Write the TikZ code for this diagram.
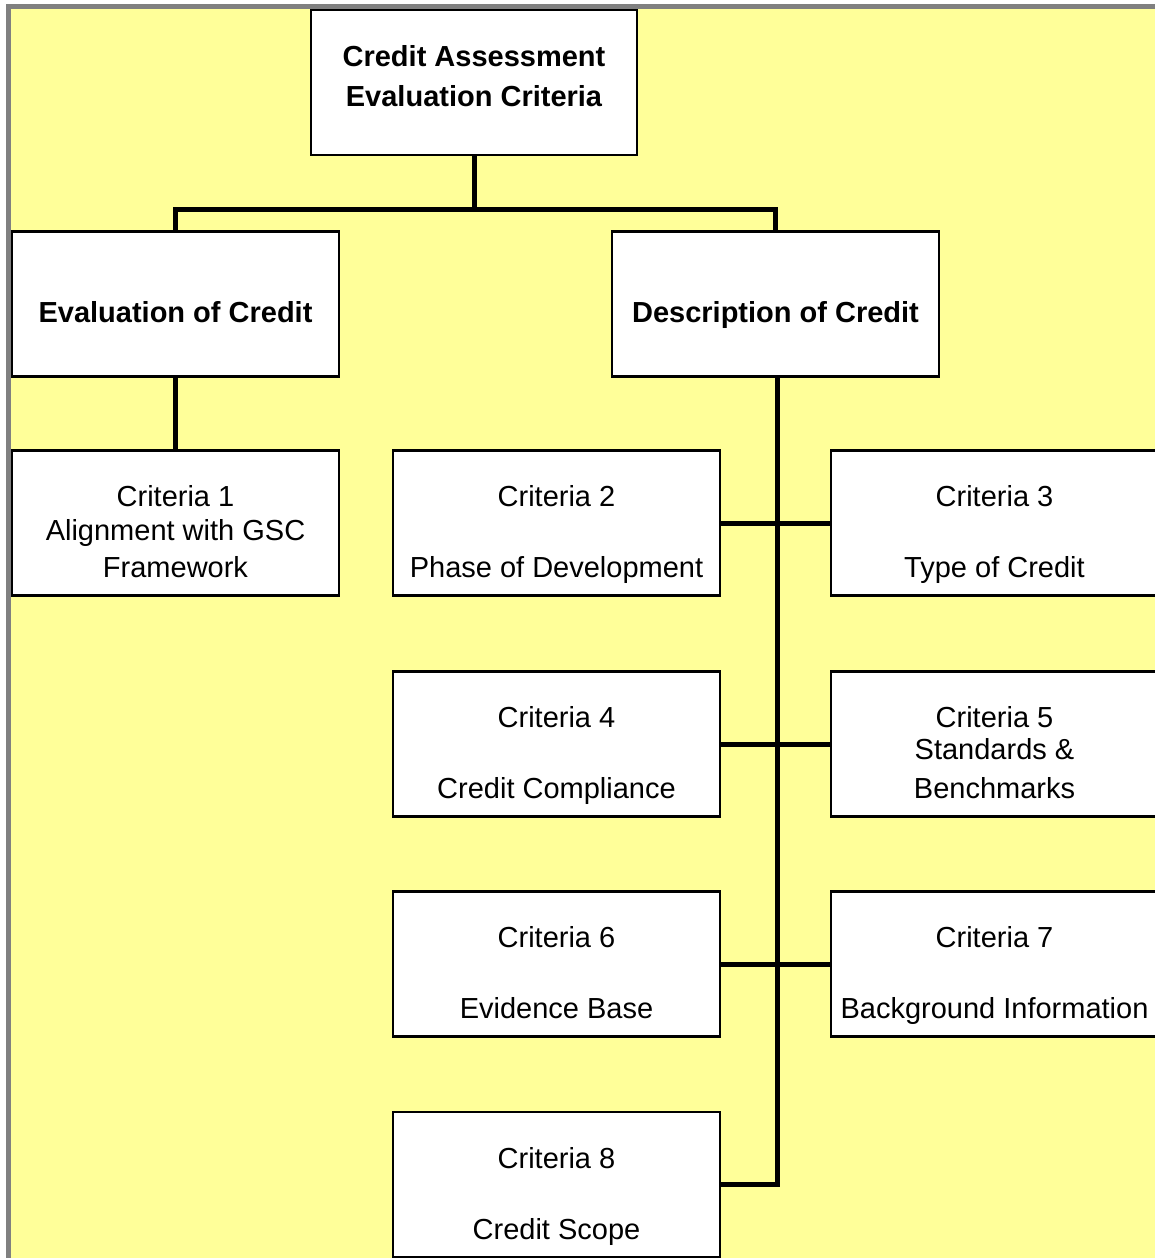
\documentclass[tikz,border=0pt]{standalone}
\usepackage{fontspec}
\setmainfont{Liberation Sans}
\usetikzlibrary{calc}
\definecolor{paper}{HTML}{FFFF99}
\definecolor{framegray}{HTML}{808080}
\begin{document}
\begin{tikzpicture}[x=1pt,y=-1pt,
  box/.style={draw=black, line width=2.5pt, fill=white, minimum width=327pt,
    minimum height=145pt, inner sep=0pt, outer sep=0pt},
  lbl/.style={anchor=base, inner sep=0pt, font=\fontsize{29}{34}\selectfont},
  hdr/.style={anchor=base, inner sep=0pt, font=\fontsize{29}{34}\selectfont\bfseries},
  link/.style={draw=black, line width=5pt}]
\useasboundingbox (0,0) rectangle (1155,1258);
\clip (0,0) rectangle (1155,1258);
% page background and frame
\fill[white] (0,0) rectangle (1155,1258);
\fill[paper] (8.5,6.5) rectangle (1180,1280);
\draw[framegray, line width=5pt] (8.5,6.5) rectangle (1180,1280);

% boxes
\node[box, minimum width=326pt] (top) at (474,82.5) {};
\node[box] (eval) at (175.5,304) {};
\node[box] (desc) at (775.5,304) {};
\node[box] (c1) at (175.5,523) {};
\node[box] (c2) at (556.5,523) {};
\node[box] (c3) at (994.5,523) {};
\node[box] (c4) at (556.5,744) {};
\node[box] (c5) at (994.5,744) {};
\node[box] (c6) at (556.5,964) {};
\node[box] (c7) at (994.5,964) {};
\node[box] (c8) at (556.5,1184.5) {};

% connectors
\coordinate (fork) at ($(top.south)+(0,54)$);
\draw[link] (top.south) -- (fork);
\draw[link] (fork) -| (eval.north);
\draw[link] (fork) -| (desc.north);
\draw[link] (eval.south) -- (c1.north);
\draw[link] ([xshift=1.5pt]desc.south) |- (c8.east);
\draw[link] (c2.east) -- (c3.west);
\draw[link] (c4.east) -- (c5.west);
\draw[link] (c6.east) -- (c7.west);

% texts
\node[hdr] (topa) at (474,66) {Credit Assessment};
\node[hdr] (topb) at (474,106) {Evaluation Criteria};
\node[hdr] (evala) at (175.5,322) {Evaluation of Credit};
\node[hdr] (desca) at (775.5,322) {Description of Credit};

\node[lbl] (c1a) at ($(c1.north)+(0,56)$) {Criteria 1};
\node[lbl] (c1b) at ($(c1.north)+(0,90)$) {Alignment with GSC};
\node[lbl] (c1c) at ($(c1.north)+(0,127)$) {Framework};

\node[lbl] (c2a) at ($(c2.north)+(0,56)$) {Criteria 2};
\node[lbl] (c2b) at ($(c2.north)+(0,127)$) {Phase of Development};

\node[lbl] (c3a) at ($(c3.north)+(0,56)$) {Criteria 3};
\node[lbl] (c3b) at ($(c3.north)+(0,127)$) {Type of Credit};

\node[lbl] (c4a) at ($(c4.north)+(0,56)$) {Criteria 4};
\node[lbl] (c4b) at ($(c4.north)+(0,127)$) {Credit Compliance};

\node[lbl] (c5a) at ($(c5.north)+(0,56)$) {Criteria 5};
\node[lbl] (c5b) at ($(c5.north)+(0,88)$) {Standards \&};
\node[lbl] (c5c) at ($(c5.north)+(0,127)$) {Benchmarks};

\node[lbl] (c6a) at ($(c6.north)+(0,56)$) {Criteria 6};
\node[lbl] (c6b) at ($(c6.north)+(0,127)$) {Evidence Base};

\node[lbl] (c7a) at ($(c7.north)+(0,56)$) {Criteria 7};
\node[lbl] (c7b) at ($(c7.north)+(0,127)$) {Background Information};

\node[lbl] (c8a) at ($(c8.north)+(0,56)$) {Criteria 8};
\node[lbl] (c8b) at ($(c8.north)+(0,127)$) {Credit Scope};
\end{tikzpicture}
\end{document}
